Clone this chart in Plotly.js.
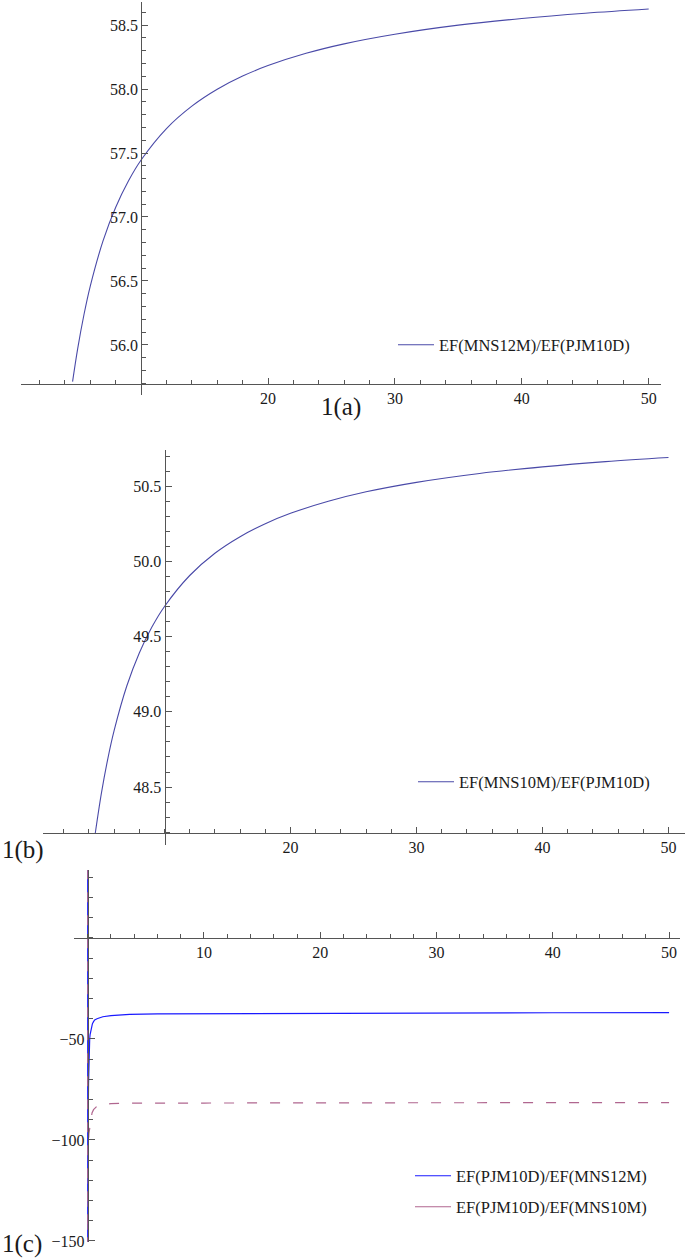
<!DOCTYPE html>
<html>
<head>
<meta charset="utf-8">
<script src="https://cdn.plot.ly/plotly-3.0.1.min.js"></script>
<style>
html,body{margin:0;padding:0;background:#fff;}
#chart{width:685px;height:1258px;}
</style>
</head>
<body>
<div id="chart"></div>
<script>
// ---- Data ----
const xA = [4.6, 5, 5.5, 6, 7, 8, 9, 10, 12, 14, 16, 18, 20, 23, 26, 30, 35, 40, 45, 50];
const yA = [55.713, 55.970, 56.238, 56.462, 56.813, 57.076, 57.281, 57.445, 57.691, 57.866, 57.998, 58.101, 58.183, 58.279, 58.353, 58.428, 58.499, 58.551, 58.592, 58.625];

const xB = [4.5, 5, 5.5, 6, 7, 8, 9, 10, 12, 14, 16, 18, 20, 23, 26, 30, 35, 40, 45, 50];
const yB = [48.19, 48.463, 48.688, 48.875, 49.170, 49.391, 49.563, 49.700, 49.906, 50.054, 50.164, 50.250, 50.319, 50.399, 50.462, 50.525, 50.584, 50.628, 50.663, 50.690];

const xC1 = [0, 0, 0.02, 0.03, 0.05, 0.07, 0.09, 0.11, 0.13, 0.15, 0.17, 0.2, 0.25, 0.3, 0.4, 0.5, 0.6, 0.8, 1, 1.3, 2, 3.6, 6, 10, 20, 30, 40, 50];
const yC1 = [34, -152, -140, -110, -85, -72, -64, -58, -54.5, -52, -50, -48, -46, -44.5, -42.5, -41.4, -40.6, -40.0, -39.5, -39.0, -38.4, -37.8, -37.6, -37.5, -37.3, -37.1, -37.0, -36.9];

const xC2 = [0, 0, 0.03, 0.06, 0.1, 0.17, 0.25, 0.37, 0.5, 0.8, 1.2, 2, 3, 5, 10, 20, 30, 40, 50];
const yC2 = [34, -152, -120, -103, -97, -93.6, -90, -86.6, -85, -83.2, -82.5, -82.0, -81.8, -81.7, -81.7, -81.6, -81.6, -81.5, -81.5];

const namesA = ["EF(MNS12M)/EF(PJM10D)"];
const namesB = ["EF(MNS10M)/EF(PJM10D)"];
const namesC = ["EF(PJM10D)/EF(MNS12M)", "EF(PJM10D)/EF(MNS10M)"];

const xTicksAB = [20, 30, 40, 50];
const yTicksA = [56.0, 56.5, 57.0, 57.5, 58.0, 58.5];
const yTicksB = [48.5, 49.0, 49.5, 50.0, 50.5];
const xTicksC = [10, 20, 30, 40, 50];
const yTicksC = [-150, -100, -50];
const panelLabels = ["1(a)", "1(b)", "1(c)"];

// ---- Layout helpers ----
const W = 685, H = 1258;
const fx = px => px / W;
const fy = py => 1 - py / H;
const FONT = 'Liberation Serif, Times New Roman, Times, serif';
const AX = '#555555';
const TXT = '#1a1a1a';
const TICKSIZE = 16;

function xAxis(domain, range, pos, tickvals, minorD) {
  return {
    domain: domain, range: range, anchor: 'free', position: pos,
    showline: true, linecolor: AX, linewidth: 1, zeroline: false, showgrid: false,
    tickmode: 'array', tickvals: tickvals, ticks: 'inside', ticklen: 6, tickcolor: AX, tickwidth: 1,
    tickfont: {family: FONT, size: TICKSIZE, color: TXT},
    minor: {dtick: minorD, tick0: 0, ticks: 'inside', ticklen: 4, tickcolor: AX, showgrid: false},
    fixedrange: true
  };
}
function yAxis(domain, range, pos, tickvals, minorD, fmt) {
  return {
    domain: domain, range: range, anchor: 'free', position: pos,
    showline: true, linecolor: AX, linewidth: 1, zeroline: false, showgrid: false,
    tickmode: 'array', tickvals: tickvals, tickformat: fmt, ticks: 'inside', ticklen: 6, tickcolor: AX, tickwidth: 1,
    tickfont: {family: FONT, size: TICKSIZE, color: TXT},
    minor: {dtick: minorD, tick0: 0, ticks: 'inside', ticklen: 4, tickcolor: AX, showgrid: false},
    fixedrange: true
  };
}

const RED = '#b0668f';
const traces = [
  {x: xA, y: yA, xaxis: 'x', yaxis: 'y', mode: 'lines', name: namesA[0],
   line: {color: '#4a4aa8', width: 1.1, shape: 'spline', smoothing: 1}, legend: 'legend'},
  {x: xB, y: yB, xaxis: 'x2', yaxis: 'y2', mode: 'lines', name: namesB[0],
   line: {color: '#4a4aa8', width: 1.1, shape: 'spline', smoothing: 1}, legend: 'legend2'},
  {x: xC1, y: yC1, xaxis: 'x3', yaxis: 'y3', mode: 'lines', name: namesC[0],
   line: {color: '#1a1aff', width: 1.2}, legend: 'legend3'},
  {x: xC2, y: yC2, xaxis: 'x3', yaxis: 'y3', mode: 'lines', name: namesC[1], showlegend: false,
   line: {color: RED, width: 1.2, dash: '10px,13px'}},
  // legend entry (solid sample line, as in the reference legend)
  {x: [null], y: [null], xaxis: 'x3', yaxis: 'y3', mode: 'lines', name: namesC[1],
   line: {color: RED, width: 1.2}, legend: 'legend4'}
];

function leg(xpx, ypx) {
  return {x: fx(xpx), y: fy(ypx), xanchor: 'left', yanchor: 'middle', xref: 'paper', yref: 'paper',
    itemwidth: 36,
    bgcolor: 'rgba(0,0,0,0)', borderwidth: 0, font: {family: FONT, size: 16.5, color: TXT}};
}

const layout = {
  width: W, height: H,
  margin: {l: 0, r: 0, t: 0, b: 0},
  paper_bgcolor: '#fff', plot_bgcolor: 'rgba(0,0,0,0)',
  showlegend: true,
  font: {family: FONT, color: TXT},
  // Panel (a)
  xaxis: xAxis([fx(21), fx(661)], [0.536, 50.97], fy(383.5), xTicksAB, 2),
  yaxis: yAxis([fy(395), fy(2)], [55.609, 58.68], fx(141.1), yTicksA, 0.1, '.1f'),
  // Panel (b)
  xaxis2: xAxis([fx(43.3), 1], [0.381, 51.31], fy(833), xTicksAB, 2),
  yaxis2: yAxis([fy(845), fy(450)], [48.115, 50.74], fx(164.5), yTicksB, 0.1, '.1f'),
  // Panel (c)
  xaxis3: xAxis([fx(74), fx(680)], [-1.18, 50.94], fy(938), xTicksC, 2),
  yaxis3: yAxis([fy(1242), fy(870)], [-150.5, 33.66], fx(87.75), yTicksC, 10, 'd'),
  legend: leg(393, 345),
  legend2: leg(413, 782),
  legend3: leg(410, 1176),
  legend4: leg(410, 1207),
  annotations: [
    {text: panelLabels[0], x: fx(341), y: fy(407), xref: 'paper', yref: 'paper', showarrow: false,
     xanchor: 'center', yanchor: 'middle', font: {family: FONT, size: 25, color: TXT}},
    {text: panelLabels[1], x: 0, y: fy(850), xref: 'paper', yref: 'paper', showarrow: false,
     xanchor: 'left', yanchor: 'middle', font: {family: FONT, size: 25, color: TXT}},
    {text: panelLabels[2], x: 0, y: fy(1244), xref: 'paper', yref: 'paper', showarrow: false,
     xanchor: 'left', yanchor: 'middle', font: {family: FONT, size: 25, color: TXT}}
  ]
};

Plotly.newPlot('chart', traces, layout, {displayModeBar: false, staticPlot: true});
</script>
</body>
</html>
